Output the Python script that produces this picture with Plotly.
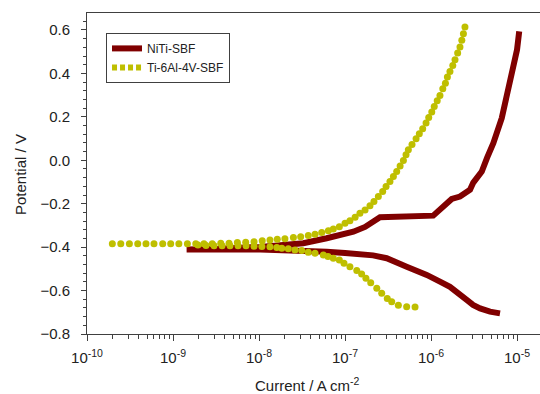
import plotly.graph_objects as go

# ---- data (current in A/cm^2, potential in V) ----
niti_current = [6.34e-6, 4.85e-6, 3.72e-6, 3.08e-6, 2.60e-6, 2.06e-6, 1.66e-6, 1.27e-6,
                8.91e-7, 5.21e-7, 3.05e-7, 2.12e-7, 1.49e-7, 1.0e-7, 6.12e-8, 2.51e-8,
                1.03e-8, 3.52e-9, 1.44e-9,
                3.52e-9, 1.03e-8, 1.75e-8, 3.27e-8, 6.12e-8, 8.75e-8, 1.25e-7, 1.71e-7,
                2.13e-7, 2.36e-7, 2.55e-7, 1.06e-6, 1.33e-6, 1.74e-6, 2.17e-6, 2.84e-6,
                3.10e-6, 3.89e-6, 4.48e-6, 5.30e-6, 6.64e-6, 7.59e-6, 8.30e-6, 9.31e-6,
                1.0e-5, 1.06e-5]
niti_potential = [-0.705, -0.697, -0.682, -0.666, -0.643, -0.611, -0.583, -0.559,
                  -0.528, -0.490, -0.451, -0.438, -0.436, -0.427, -0.421, -0.413,
                  -0.411, -0.411, -0.411,
                  -0.408, -0.399, -0.392, -0.382, -0.359, -0.344, -0.329, -0.307,
                  -0.283, -0.265, -0.262, -0.255, -0.221, -0.178, -0.167, -0.136,
                  -0.103, -0.052, 0.011, 0.079, 0.194, 0.294, 0.370, 0.432,
                  0.509, 0.593]

ti_current = [6.52e-7, 5.21e-7, 4.17e-7, 3.49e-7, 3.10e-7, 2.67e-7, 2.34e-7, 1.99e-7,
              1.75e-7, 1.56e-7, 1.37e-7, 1.14e-7, 9.73e-8, 8.59e-8, 7.31e-8, 6.34e-8,
              5.60e-8, 4.48e-8, 3.74e-8, 3.14e-8, 2.62e-8, 2.19e-8, 1.84e-8, 1.61e-8,
              1.34e-8, 1.08e-8, 8.75e-9, 7.06e-9, 5.70e-9, 4.60e-9, 3.72e-9, 3.00e-9,
              2.42e-9, 1.95e-9,
              1.97e-10, 2.47e-10, 3.11e-10, 3.89e-10, 4.85e-10, 6.01e-10, 7.59e-10, 9.40e-10,
              1.17e-9, 1.47e-9, 1.84e-9, 2.29e-9, 2.86e-9, 3.59e-9, 4.48e-9, 5.60e-9,
              7.00e-9, 8.75e-9, 1.09e-8, 1.34e-8, 1.63e-8, 2.00e-8, 2.51e-8, 3.05e-8,
              3.74e-8, 4.48e-8, 5.36e-8, 6.40e-8, 7.31e-8, 8.59e-8, 1.0e-7, 1.14e-7,
              1.31e-7, 1.49e-7, 1.71e-7, 1.95e-7, 2.17e-7, 2.44e-7, 2.74e-7, 3.00e-7,
              3.33e-7, 3.65e-7, 3.99e-7, 4.37e-7, 4.77e-7, 5.12e-7, 5.45e-7, 6.01e-7,
              6.70e-7, 7.31e-7, 8.00e-7, 8.75e-7, 9.40e-7, 1.02e-6, 1.09e-6, 1.18e-6,
              1.27e-6, 1.37e-6, 1.47e-6, 1.55e-6, 1.66e-6, 1.79e-6, 1.90e-6, 2.04e-6,
              2.17e-6, 2.28e-6, 2.38e-6, 2.48e-6]
ti_potential = [-0.676, -0.674, -0.668, -0.651, -0.636, -0.612, -0.589, -0.564,
                -0.543, -0.524, -0.508, -0.490, -0.474, -0.459, -0.451, -0.443,
                -0.436, -0.428, -0.424, -0.416, -0.413, -0.408, -0.405, -0.402,
                -0.398, -0.397, -0.396, -0.394, -0.394, -0.394, -0.394, -0.394,
                -0.392, -0.390,
                -0.385, -0.385, -0.385, -0.385, -0.385, -0.385, -0.385, -0.385,
                -0.385, -0.385, -0.385, -0.385, -0.385, -0.382, -0.382, -0.379,
                -0.377, -0.375, -0.371, -0.367, -0.364, -0.362, -0.356, -0.352,
                -0.347, -0.341, -0.333, -0.325, -0.316, -0.306, -0.290, -0.278,
                -0.262, -0.244, -0.229, -0.210, -0.190, -0.167, -0.144, -0.121,
                -0.098, -0.075, -0.052, -0.026, -0.001, 0.025, 0.048, 0.073,
                0.099, 0.122, 0.145, 0.171, 0.197, 0.222, 0.247, 0.274,
                0.298, 0.329, 0.355, 0.383, 0.409, 0.436, 0.463, 0.494,
                0.521, 0.552, 0.582, 0.613]

x_tick_vals = [1e-10, 1e-9, 1e-8, 1e-7, 1e-6, 1e-5]
x_tick_text = ["10<sup>-10</sup>", "10<sup>-9</sup>", "10<sup>-8</sup>",
               "10<sup>-7</sup>", "10<sup>-6</sup>", "10<sup>-5</sup>"]
y_tick_vals = [-0.8, -0.6, -0.4, -0.2, 0.0, 0.2, 0.4, 0.6]

NITI_COLOR = "#800000"
TI_COLOR = "#bfbf00"
AXIS_COLOR = "#404040"
FONT = "Liberation Sans, Arial, sans-serif"

fig = go.Figure()
fig.add_trace(go.Scatter(x=niti_current, y=niti_potential, mode="lines", name="NiTi-SBF",
                         line=dict(color=NITI_COLOR, width=6)))
fig.add_trace(go.Scatter(x=ti_current, y=ti_potential, mode="markers", name="Ti-6Al-4V-SBF",
                         showlegend=False,
                         marker=dict(color=TI_COLOR, size=7, line=dict(width=0))))
# legend-only entry showing dotted style
fig.add_trace(go.Scatter(x=[None], y=[None], mode="lines", name="Ti-6Al-4V-SBF",
                         line=dict(color=TI_COLOR, width=6, dash="5px,3px")))

W, H = 540, 394
L, T, B = 87, 13, 60

fig.update_layout(
    width=W, height=H,
    margin=dict(l=L, r=0, t=T, b=B),
    paper_bgcolor="white", plot_bgcolor="white",
    font=dict(family=FONT, size=14, color="#222"),
    showlegend=True,
    legend=dict(x=0.042, y=0.938, xanchor="left", yanchor="top",
                bgcolor="white", bordercolor=AXIS_COLOR, borderwidth=1,
                font=dict(size=12, color="#222"), itemwidth=30),
    xaxis=dict(type="log", range=[-10, -4.733],
               tickmode="array", tickvals=x_tick_vals, ticktext=x_tick_text,
               ticks="outside", ticklen=6, tickcolor=AXIS_COLOR, tickwidth=1,
               minor=dict(ticks="outside", ticklen=4, tickcolor=AXIS_COLOR, dtick="D1", showgrid=False),
               showline=True, linecolor=AXIS_COLOR, linewidth=1, mirror=True,
               showgrid=False, zeroline=False, ticklabelstandoff=4,
               tickfont=dict(size=15)),
    yaxis=dict(range=[-0.8, 0.678],
               tickmode="array", tickvals=y_tick_vals, tickformat=".1f",
               ticks="outside", ticklen=5, tickcolor=AXIS_COLOR, tickwidth=1,
               minor=dict(ticks="outside", ticklen=3, tickcolor=AXIS_COLOR, dtick=0.04, tick0=-0.8, showgrid=False),
               showline=True, linecolor=AXIS_COLOR, linewidth=1, mirror=False,
               showgrid=False, zeroline=False, ticklabelstandoff=8,
               tickfont=dict(size=15)),
    annotations=[
        dict(text="Current / A cm<sup>-2</sup>", xref="paper", yref="paper",
             x=(307 - L) / (W - L), y=-(384 - 334) / (334 - T),
             xanchor="center", yanchor="middle", showarrow=False,
             font=dict(size=15, color="#222")),
        dict(text="Potential / V", xref="paper", yref="paper",
             x=(20 - L) / (W - L), y=(334 - 175) / (334 - T), textangle=-90,
             xanchor="center", yanchor="middle", showarrow=False,
             font=dict(size=15, color="#222")),
    ],
)

fig.write_html("out.html")
